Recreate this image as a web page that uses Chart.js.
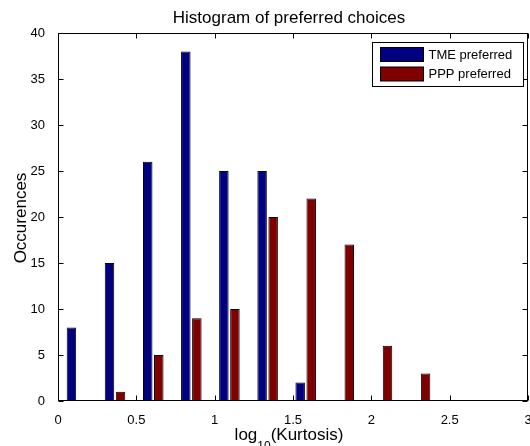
<!DOCTYPE html>
<html>
<head>
<meta charset="utf-8">
<script src="https://cdn.jsdelivr.net/npm/chart.js"></script>
<style>
  body { margin: 0; background: #fff; }
  canvas { display: block; }
</style>
</head>
<body>
<canvas id="histChart" width="530" height="446"></canvas>
<script>
// Datos del histograma (centros de clase en log10(Kurtosis))
const binCenters = [0.121, 0.364, 0.608, 0.851, 1.094, 1.338, 1.581, 1.824, 2.068, 2.311];
const tmeCounts = [8, 15, 26, 38, 25, 25, 2, 0, 0, 0];
const pppCounts = [0, 1, 5, 9, 10, 20, 22, 17, 6, 3];
const seriesLabels = ['TME preferred', 'PPP preferred'];
const seriesColors = ['#000080', '#800000'];
const xTickValues = [0, 0.5, 1, 1.5, 2, 2.5, 3];
const xTickLabels = ['0', '0.5', '1', '1.5', '2', '2.5', '3'];
const yTickValues = [0, 5, 10, 15, 20, 25, 30, 35, 40];

const FONT = '"Liberation Sans", Arial, Helvetica, sans-serif';

function toPoints(counts) {
    return counts.map((c, i) => ({ x: binCenters[i], y: c }));
}

// Marco, marcas hacia dentro, leyenda y textos al estilo MATLAB
const matlabFrame = {
    id: 'matlabFrame',
    afterDraw(chart) {
        const ctx = chart.ctx;
        const a = chart.chartArea;
        const xs = chart.scales.x;
        const ys = chart.scales.y;
        const L = Math.round(a.left) + 0.5, R = Math.round(a.right) - 0.5;
        const T = Math.round(a.top) + 0.5, B = Math.round(a.bottom) - 0.5;
        ctx.save();
        ctx.strokeStyle = '#000';
        ctx.lineWidth = 1;
        ctx.strokeRect(L, T, R - L, B - T);

        const tick = 5;
        ctx.beginPath();
        xs.ticks.forEach(t => {
            const px = Math.round(xs.getPixelForValue(t.value)) + 0.5;
            ctx.moveTo(px, B); ctx.lineTo(px, B - tick);
            ctx.moveTo(px, T); ctx.lineTo(px, T + tick);
        });
        ys.ticks.forEach(t => {
            const py = Math.round(ys.getPixelForValue(t.value)) + 0.5;
            ctx.moveTo(L, py); ctx.lineTo(L + tick, py);
            ctx.moveTo(R, py); ctx.lineTo(R - tick, py);
        });
        ctx.stroke();

        // Leyenda
        const lx = 372.5, ly = 42.5, lw = 151, lh = 44;
        ctx.fillStyle = '#fff';
        ctx.fillRect(lx, ly, lw, lh);
        ctx.strokeRect(lx, ly, lw, lh);
        ctx.font = '13px ' + FONT;
        ctx.textBaseline = 'middle';
        ctx.textAlign = 'left';
        chart.data.datasets.forEach((ds, i) => {
            const sy = ly + 5 + i * 19.5;
            ctx.fillStyle = ds.backgroundColor;
            ctx.fillRect(lx + 8, sy, 43, 14);
            ctx.strokeRect(lx + 8, sy, 43, 14);
            ctx.fillStyle = '#000';
            ctx.fillText(ds.label, lx + 56, sy + 7.5);
        });

        // Título
        const cx = (a.left + a.right) / 2 - 4;
        ctx.fillStyle = '#000';
        ctx.textAlign = 'center';
        ctx.textBaseline = 'alphabetic';
        ctx.font = '17px ' + FONT;
        ctx.fillText('Histogram of preferred choices', cx, 23);

        // Etiqueta del eje x con subíndice
        const p1 = 'log', sub = '10', p2 = '(Kurtosis)';
        const mainFont = '17px ' + FONT;
        const subFont = '12px ' + FONT;
        ctx.font = mainFont;
        const w1 = ctx.measureText(p1).width, w3 = ctx.measureText(p2).width;
        ctx.font = subFont;
        const w2 = ctx.measureText(sub).width;
        let x0 = cx - (w1 + w2 + w3) / 2;
        ctx.textAlign = 'left';
        ctx.font = mainFont;
        ctx.fillText(p1, x0, 440);
        ctx.font = subFont;
        ctx.fillText(sub, x0 + w1, 450);
        ctx.font = mainFont;
        ctx.fillText(p2, x0 + w1 + w2, 440);

        // Etiqueta del eje y
        ctx.save();
        ctx.translate(21, (a.top + a.bottom) / 2 + 1);
        ctx.rotate(-Math.PI / 2);
        ctx.textAlign = 'center';
        ctx.textBaseline = 'middle';
        ctx.font = mainFont;
        ctx.fillText('Occurences', 0, 0);
        ctx.restore();

        ctx.restore();
    }
};

new Chart(document.getElementById('histChart'), {
    type: 'bar',
    data: {
        datasets: [{
            label: seriesLabels[0],
            data: toPoints(tmeCounts),
            backgroundColor: seriesColors[0],
            borderColor: '#000',
            borderWidth: 1
        }, {
            label: seriesLabels[1],
            data: toPoints(pppCounts),
            backgroundColor: seriesColors[1],
            borderColor: '#000',
            borderWidth: 1
        }]
    },
    options: {
        responsive: false,
        animation: false,
        categoryPercentage: 0.58,
        barPercentage: 0.86,
        layout: { padding: { top: 33, right: 2, left: 0, bottom: 0 } },
        plugins: {
            legend: { display: false },
            title: { display: false },
            tooltip: { enabled: false }
        },
        scales: {
            x: {
                type: 'linear',
                min: 0,
                max: 3,
                offset: false,
                grid: { display: false, offset: false },
                border: { display: false },
                afterBuildTicks: s => { s.ticks = xTickValues.map(v => ({ value: v })); },
                afterFit: s => { s.height = 45; s.paddingLeft = 0; s.paddingRight = 0; },
                ticks: {
                    padding: 4,
                    color: '#000',
                    font: { family: FONT, size: 13 },
                    maxRotation: 0,
                    autoSkip: false,
                    callback: (v, i) => xTickLabels[i]
                }
            },
            y: {
                min: 0,
                max: 40,
                grid: { display: false },
                border: { display: false },
                afterBuildTicks: s => { s.ticks = yTickValues.map(v => ({ value: v })); },
                afterFit: s => { s.width = 58; s.paddingTop = 0; s.paddingBottom = 0; },
                ticks: {
                    padding: 5,
                    color: '#000',
                    font: { family: FONT, size: 13 }
                }
            }
        }
    },
    plugins: [matlabFrame]
});
</script>
</body>
</html>
